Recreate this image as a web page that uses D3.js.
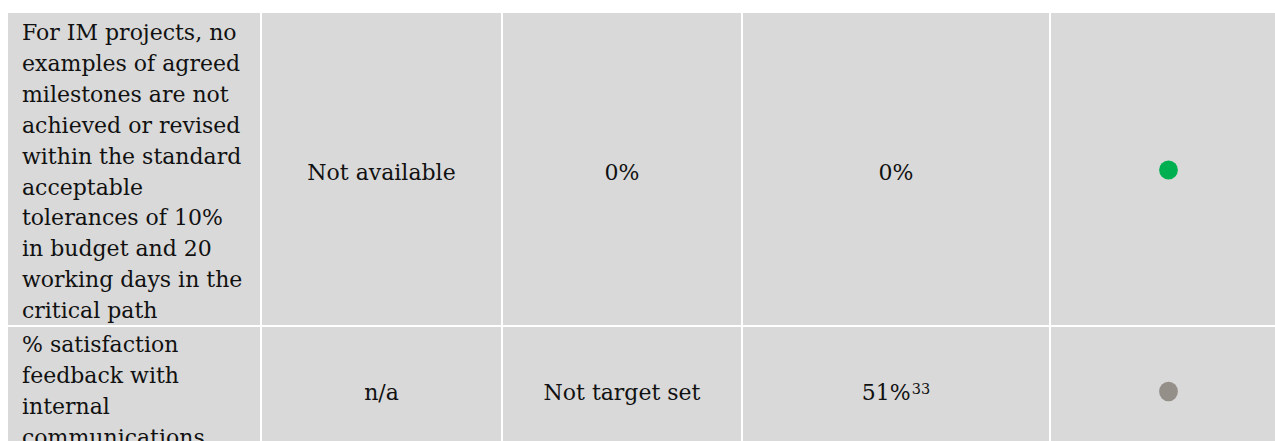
<!DOCTYPE html>
<html>
<head>
<meta charset="utf-8">
<script src="https://cdn.jsdelivr.net/npm/d3@7"></script>
<style>
  html, body { margin: 0; padding: 0; background: #ffffff; overflow: hidden; }
  svg { display: block; }
</style>
</head>
<body>
<svg id="chart" width="1275" height="441"></svg>
<script>
// ---- data ----
const indicatorLines = [
  ["For IM projects, no", "examples of agreed", "milestones are not", "achieved or revised",
   "within the standard", "acceptable", "tolerances of 10%", "in budget and 20",
   "working days in the", "critical path"],
  ["% satisfaction", "feedback with", "internal", "communications"]
];
const baselines = ["Not available", "n/a"];
const targets = ["0%", "Not target set"];
const actuals = ["0%", "51%"];
const footnotes = ["", "33"];
const statusColors = ["#00b050", "#958f8a"];

// ---- layout ----
const W = 1275, H = 441;
const svg = d3.select("#chart");
const FONT = "'DejaVu Serif', serif";
const fontSize = 22;
const lineH = 30.9;

// column edges (cells separated by 2px white gaps)
const colEdges = [8, 262, 503, 743, 1051, 1288];
const rowEdges = [13, 327, 456];
const gap = 2;

const colIdx = d3.range(colEdges.length - 1);
const rowIdx = d3.range(rowEdges.length - 1);
const xLeft = d3.scaleOrdinal().domain(colIdx).range(colEdges.slice(0, -1));
const xRight = d3.scaleOrdinal().domain(colIdx).range(colEdges.slice(1).map(e => e - gap));
const yTop = d3.scaleOrdinal().domain(rowIdx).range(rowEdges.slice(0, -1));
const yBot = d3.scaleOrdinal().domain(rowIdx).range(rowEdges.slice(1).map(e => e - gap));
const xMid = c => (xLeft(c) + xRight(c)) / 2;
const yMid = r => (yTop(r) + yBot(r)) / 2;

// cells
const cells = [];
rowIdx.forEach(r => colIdx.forEach(c => cells.push({ r, c })));
svg.append("g").selectAll("rect").data(cells).join("rect")
  .attr("x", d => xLeft(d.c))
  .attr("y", d => yTop(d.r))
  .attr("width", d => xRight(d.c) - xLeft(d.c))
  .attr("height", d => yBot(d.r) - yTop(d.r))
  .attr("fill", "#d9d9d9");

// first column multi-line text
const firstBaseOffset = [27, 25];
const g1 = svg.append("g");
rowIdx.forEach(r => {
  g1.append("text")
    .attr("font-family", FONT).attr("font-size", fontSize).attr("fill", "#111")
    .selectAll("tspan").data(indicatorLines[r]).join("tspan")
    .attr("x", xLeft(0) + 14)
    .attr("y", (d, i) => yTop(r) + firstBaseOffset[r] + i * lineH)
    .text(d => d);
});

// centred columns
const centredCols = [
  { c: 1, vals: baselines },
  { c: 2, vals: targets },
  { c: 3, vals: actuals }
];
const baseOff = [11, 9];
centredCols.forEach(col => {
  rowIdx.forEach(r => {
    const t = svg.append("text")
      .attr("x", xMid(col.c))
      .attr("y", yMid(r) + baseOff[r])
      .attr("text-anchor", "middle")
      .attr("font-family", FONT).attr("font-size", fontSize).attr("fill", "#111");
    t.append("tspan").text(col.vals[r]);
    if (col.c === 3 && footnotes[r]) {
      t.append("tspan").attr("font-size", 14.5).attr("dy", -6).attr("dx", 1).text(footnotes[r]);
    }
  });
});

// status dots
svg.append("g").selectAll("ellipse").data(rowIdx).join("ellipse")
  .attr("cx", xMid(4))
  .attr("cy", r => yMid(r) + 1)
  .attr("rx", 9.4)
  .attr("ry", r => r === 0 ? 9.4 : 9.8)
  .attr("fill", r => statusColors[r]);
</script>
</body>
</html>
